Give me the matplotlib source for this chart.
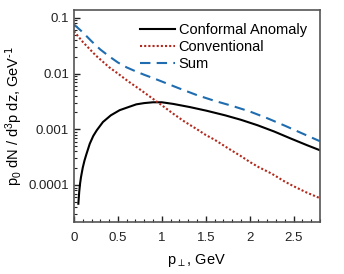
import matplotlib
matplotlib.use("Agg")
import matplotlib.pyplot as plt
from matplotlib.ticker import FixedLocator, MultipleLocator, LogLocator, NullFormatter

plt.rcParams['font.family'] = ['Liberation Sans', 'DejaVu Sans']
plt.rcParams['mathtext.default'] = 'regular'

# Conformal anomaly (black solid)
x_conf = [0.05, 0.06, 0.07, 0.08, 0.1, 0.12, 0.14, 0.18, 0.22, 0.26, 0.33, 0.42, 0.52, 0.62,
          0.71, 0.8, 0.9, 1.0, 1.13, 1.32, 1.51, 1.72, 1.9, 2.09, 2.28, 2.47, 2.65, 2.8]
y_conf = [4.6e-5, 7.6e-5, 1.07e-4, 1.38e-4, 2.04e-4, 2.75e-4, 3.5e-4, 5.5e-4, 7.6e-4, 9.6e-4,
          1.35e-3, 1.78e-3, 2.2e-3, 2.5e-3, 2.8e-3, 2.95e-3, 3.05e-3, 3.05e-3, 2.85e-3,
          2.5e-3, 2.15e-3, 1.78e-3, 1.48e-3, 1.18e-3, 9.1e-4, 6.8e-4, 5.2e-4, 4.2e-4]

# Conventional (red dotted)
x_conv = [0.0, 0.1, 0.25, 0.4, 0.5, 0.62, 0.75, 0.88, 1.0, 1.13, 1.25, 1.4, 1.5, 1.6, 1.75,
          1.9, 2.0, 2.1, 2.25, 2.4, 2.5, 2.65, 2.8]
y_conv = [5.75e-2, 3.7e-2, 2.1e-2, 1.3e-2, 1.0e-2, 7.2e-3, 5.2e-3, 3.7e-3, 2.7e-3, 1.9e-3,
          1.4e-3, 1.0e-3, 7.9e-4, 6.5e-4, 4.6e-4, 3.3e-4, 2.6e-4, 2.1e-4, 1.6e-4, 1.15e-4,
          9.5e-5, 7.3e-5, 5.8e-5]

# Sum (blue dashed)
x_sum = [0.0, 0.1, 0.2, 0.3, 0.4, 0.5, 0.6, 0.7, 0.8, 0.9, 1.0, 1.2, 1.4, 1.6, 1.8, 2.0,
         2.2, 2.4, 2.6, 2.8]
y_sum = [7.6e-2, 5.5e-2, 3.8e-2, 2.7e-2, 2.04e-2, 1.58e-2, 1.29e-2, 1.10e-2, 9.5e-3, 8.3e-3,
         7.2e-3, 5.4e-3, 4.1e-3, 3.24e-3, 2.63e-3, 2.09e-3, 1.58e-3, 1.16e-3, 8.4e-4, 6.1e-4]

ytick_vals = [1e-4, 1e-3, 1e-2, 1e-1]
ytick_labels = ['0.0001', '0.001', '0.01', '0.1']
xtick_vals = [0, 0.5, 1, 1.5, 2, 2.5]
xtick_labels = ['0', '0.5', '1', '1.5', '2', '2.5']

fig = plt.figure(figsize=(3.44, 2.74), dpi=100)
ax = fig.add_axes([0.215, 0.190, 0.715, 0.774])

ax.plot(x_conf, y_conf, color='black', lw=1.5, label='Conformal Anomaly')
ax.plot(x_conv, y_conv, color='#b22a1e', lw=1.5, ls=(0, (1, 1)), label='Conventional')
ax.plot(x_sum, y_sum, color='#1f6db0', lw=1.5, ls=(0, (5, 3)), label='Sum')

ax.set_yscale('log')
ax.set_xlim(0, 2.8)
ax.set_ylim(2.17e-5, 0.139)

ax.yaxis.set_major_locator(FixedLocator(ytick_vals))
ax.set_yticklabels(ytick_labels)
ax.yaxis.set_minor_locator(LogLocator(base=10, subs=range(2, 10)))
ax.yaxis.set_minor_formatter(NullFormatter())
ax.set_xticks(xtick_vals)
ax.set_xticklabels(xtick_labels)
ax.xaxis.set_minor_locator(MultipleLocator(0.1))

ax.tick_params(which='both', direction='in', top=False, right=False, labelsize=9.5, colors='#222222')
ax.tick_params(axis='x', which='major', pad=7)
ax.tick_params(which='major', length=4, width=1)
ax.tick_params(which='minor', length=2, width=0.8)
for s in ax.spines.values():
    s.set_color('#555555')
    s.set_linewidth(1.2)

ax.set_xlabel(r'p$_\perp$, GeV', fontsize=10.5, labelpad=6)
ax.set_ylabel(r'p$_0$ dN / d$^3$p dz, GeV$^{\text{-1}}$', fontsize=10.5, labelpad=3)

ax.legend(loc='upper right', frameon=False, fontsize=10.5, handlelength=2.4,
          handletextpad=0.25, labelspacing=0.22, borderaxespad=0.5,
          bbox_to_anchor=(1.0, 1.0))

fig.savefig('out.png', dpi=100)
